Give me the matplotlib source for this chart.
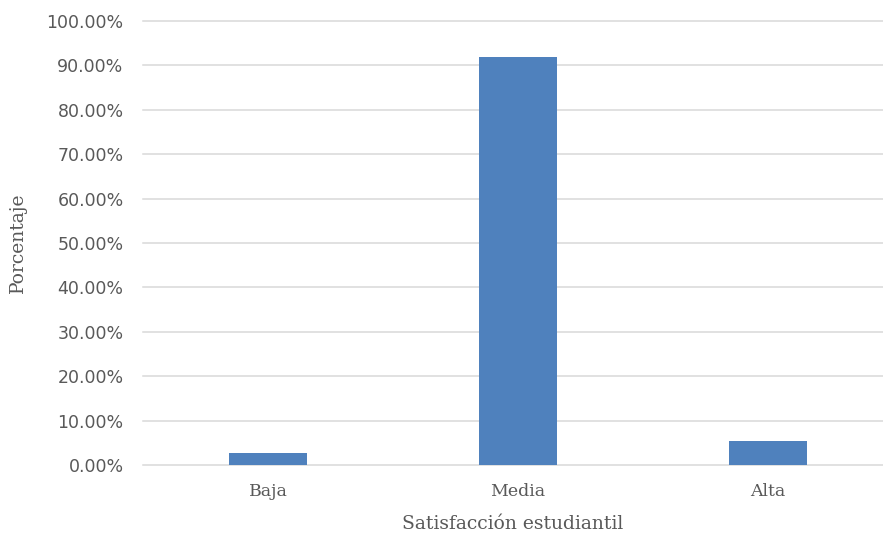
import matplotlib.pyplot as plt
from matplotlib.ticker import FuncFormatter, MultipleLocator

# Data
categorias = ['Baja', 'Media', 'Alta']
porcentajes = [2.70, 91.89, 5.41]

gris = '#595959'
azul = '#4f81bd'

fig = plt.figure(figsize=(8.83, 5.37), dpi=100)
ax = fig.add_axes([143 / 883, 72 / 537, 740 / 883, 444 / 537])

ax.bar(categorias, porcentajes, width=0.31, color=azul, zorder=3)

ax.set_xlim(-0.5, 2.46)
ax.set_ylim(0, 100)
ax.yaxis.set_major_locator(MultipleLocator(10))
ax.yaxis.set_major_formatter(FuncFormatter(lambda v, p: '%.2f%%' % v))
ax.grid(axis='y', color='#d9d9d9', linewidth=1.1, zorder=0)
for gl in ax.get_ygridlines():
    gl.set_clip_on(False)

for s in ax.spines.values():
    s.set_visible(False)
ax.tick_params(length=0, colors=gris)
ax.tick_params(axis='y', labelsize=12.5, pad=14)
ax.tick_params(axis='x', pad=13)
for t in ax.get_xticklabels():
    t.set_family('DejaVu Serif')
    t.set_fontsize(12.5)

ax.set_xlabel('Satisfacción estudiantil', family='DejaVu Serif', fontsize=13.5,
              color=gris, labelpad=11)
ax.set_ylabel('Porcentaje', family='DejaVu Serif', fontsize=13.5,
              color=gris, labelpad=14)

fig.savefig('out.png')
